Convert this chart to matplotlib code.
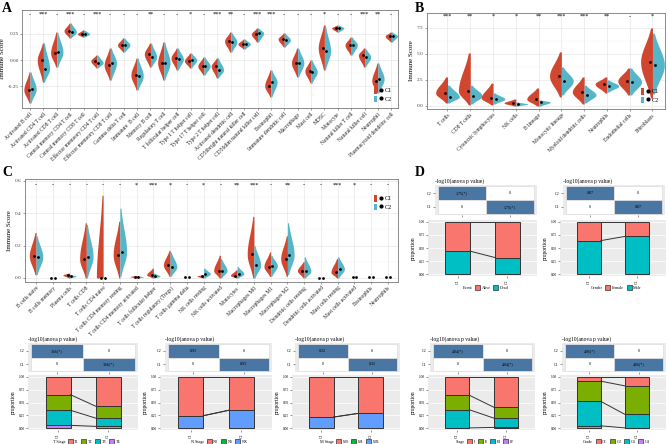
import numpy as np
import matplotlib.pyplot as plt
from matplotlib.patches import Patch, Rectangle
from matplotlib.lines import Line2D
from matplotlib.legend_handler import HandlerTuple

plt.rcParams['font.family'] = ['Liberation Serif', 'DejaVu Serif']

RED = "#D0462F"
TEAL = "#57B5C9"

# ---------------------------
# Panel A: ssGSEA immune cells
# ---------------------------
a_cells = ["Activated B cell", "Activated CD4 T cell", "Activated CD8 T cell",
           "Central memory CD4 T cell", "Central memory CD8 T cell",
           "Effector memeory CD4 T cell", "Effector memeory CD8 T cell",
           "Gamma delta T cell", "Immature  B cell", "Memory B cell",
           "Regulatory T cell", "T follicular helper cell", "Type 1 T helper cell",
           "Type 17 T helper cell", "Type 2 T helper cell", "Activated dendritic cell",
           "CD56bright natural killer cell", "CD56dim natural killer cell",
           "Eosinophil", "Immature dendritic cell", "Macrophage", "Mast cell",
           "MDSC", "Monocyte", "Natural killer T cell", "Natural killer cell",
           "Neutrophil", "Plasmacytoid dendritic cell"]
a_c1 = [-0.283, 0.000, 0.066, 0.274, 0.245, -0.009, -0.047, 0.142, -0.142, 0.057,
        -0.028, 0.019, -0.009, -0.057, -0.057, 0.179, 0.151, 0.245, -0.245, 0.198,
        -0.028, -0.104, 0.113, 0.302, 0.142, 0.047, -0.198, 0.226]
a_c2 = [-0.274, -0.085, 0.075, 0.264, 0.245, -0.028, -0.028, 0.142, -0.151, 0.028,
        -0.028, 0.009, 0.000, -0.057, -0.094, 0.170, 0.151, 0.255, -0.208, 0.189,
        -0.028, -0.113, 0.085, 0.302, 0.142, 0.028, -0.179, 0.226]
a_lo = [-0.406, -0.208, -0.066, 0.208, 0.217, -0.075, -0.189, 0.075, -0.283, -0.066,
        -0.189, -0.094, -0.075, -0.142, -0.170, 0.075, 0.104, 0.170, -0.349, 0.123,
        -0.160, -0.217, -0.094, 0.264, 0.047, -0.066, -0.311, 0.170]
a_hi = [-0.113, 0.160, 0.264, 0.349, 0.283, 0.047, 0.113, 0.208, 0.019, 0.160,
        0.170, 0.113, 0.066, 0.028, 0.019, 0.264, 0.198, 0.302, -0.094, 0.255,
        0.113, 0.000, 0.330, 0.330, 0.217, 0.113, -0.028, 0.264]
a_sig = ["-", "***", "-", "***", "-", "***", "-", "-", "-", "**", "-", "-", "*", "-",
         "***", "**", "-", "***", "***", "-", "-", "-", "*", "-", "-", "***", "**", "-"]

# ---------------------------
# Panel B: MCP-counter
# ---------------------------
b_cells = ["T cells", "CD8 T cells", "Cytotoxic lymphocytes", "NK cells", "B lineage",
           "Monocytic lineage", "Myeloid dendritic cells", "Neutrophils",
           "Endothelial cells", "Fibroblasts"]
b_c1 = [1.25, 1.44, 0.77, 0.29, 0.67, 2.88, 1.35, 2.12, 2.40, 4.23]
b_c2 = [0.87, 0.96, 0.67, 0.19, 0.38, 2.40, 1.06, 1.92, 2.31, 3.94]
b_c1_lo = [0.29, 0.10, 0.10, 0.00, 0.00, 0.87, 0.19, 1.25, 1.06, 0.77]
b_c1_hi = [2.79, 5.10, 2.20, 0.67, 1.73, 5.20, 2.79, 2.79, 3.65, 7.50]
b_c2_lo = [0.29, 0.19, 0.19, 0.00, 0.00, 1.06, 0.29, 1.35, 1.06, 1.15]
b_c2_hi = [2.00, 2.00, 1.25, 0.38, 0.58, 3.75, 2.00, 2.50, 3.65, 7.00]
b_sig = ["***", "**", "*", "*", "**", "***", "***", "**", "-", "*"]

# ---------------------------
# Panel C: CIBERSORT
# ---------------------------
c_cells = ["B cells naive", "B cells memory", "Plasma cells", "T cells CD8",
           "T cells CD4 naive", "T cells CD4 memory resting",
           "T cells CD4 memory activated", "T cells follicular helper",
           "T cells regulatory (Tregs)", "T cells gamma delta", "NK cells resting",
           "NK cells activated", "Monocytes", "Macrophages M0", "Macrophages M1",
           "Macrophages M2", "Dendritic cells resting", "Dendritic cells activated",
           "Mast cells resting", "Mast cells activated", "Eosinophils", "Neutrophils"]
c_c1 = [0.136, 0.0, 0.019, 0.118, 0.0, 0.142, 0.008, 0.019, 0.080, 0.004, 0.012,
        0.045, 0.015, 0.146, 0.070, 0.118, 0.045, 0.0, 0.035, 0.005, 0.004, 0.005]
c_c2 = [0.130, 0.0, 0.012, 0.130, 0.0, 0.160, 0.005, 0.010, 0.068, 0.003, 0.025,
        0.045, 0.025, 0.080, 0.075, 0.140, 0.040, 0.0, 0.055, 0.003, 0.004, 0.004]
c_c1_lo = [0.02, 0, 0, 0, 0, 0, 0, 0, 0.01, 0, 0, 0, 0, 0, 0.01, 0.01, 0, 0, 0, 0, 0, 0]
c_c1_hi = [0.28, 0, 0.03, 0.34, 0.51, 0.35, 0.015, 0.06, 0.17, 0, 0.02, 0.14, 0.05,
           0.38, 0.16, 0.26, 0.10, 0, 0.12, 0, 0, 0]
c_c2_lo = [0.02, 0, 0, 0, 0, 0.01, 0, 0, 0.01, 0, 0, 0, 0, 0, 0.01, 0.02, 0, 0, 0, 0, 0, 0]
c_c2_hi = [0.26, 0, 0.02, 0.33, 0, 0.43, 0.015, 0.03, 0.16, 0, 0.06, 0.12, 0.07,
           0.20, 0.14, 0.34, 0.13, 0, 0.13, 0, 0, 0]
c_sig = ["-", "-", "-", "-", "-", "-", "*", "***", "*", "-", "*", "-", "**", "***",
         "-", "**", "-", "-", "***", "*", "-", "-"]

# ---------------------------
# Panel D: clinical features
# ---------------------------
event_levels = ["Alive", "Dead"]
event_c1 = [0.56, 0.44]
event_c2 = [0.68, 0.32]
gender_levels = ["Female", "Male"]
gender_c1 = [0.36, 0.64]
gender_c2 = [0.28, 0.72]
tstage_levels = ["T1", "T2", "T3", "T4"]
tstage_c1 = [0.35, 0.30, 0.29, 0.06]
tstage_c2 = [0.57, 0.23, 0.16, 0.04]
nstage_levels = ["N0", "N1", "NX"]
nstage_c1 = [0.755, 0.0, 0.245]
nstage_c2 = [0.65, 0.0, 0.35]
mstage_levels = ["M0", "M1", "MX"]
mstage_c1 = [0.78, 0.0, 0.22]
mstage_c2 = [0.71, 0.0, 0.29]
stage_levels = ["I", "II", "III", "IV"]
stage_c1 = [0.36, 0.28, 0.35, 0.01]
stage_c2 = [0.59, 0.21, 0.18, 0.02]
grade_levels = ["G1", "G2", "G3", "G4"]
grade_c1 = [0.09, 0.39, 0.47, 0.05]
grade_c2 = [0.18, 0.55, 0.26, 0.01]
pval_labels = ["1.75(*)", "0.87", "3.66(*)", "0.93", "0.32", "4.04(*)", "4.06(*)"]

HUE = {2: ["#F8766D", "#00BFC4"],
       3: ["#F8766D", "#00BA38", "#619CFF"],
       4: ["#F8766D", "#7CAE00", "#00BFC4", "#C77CFF"]}

W, H = 668, 444
fig = plt.figure(figsize=(6.68, 4.44), dpi=100)


def add_px(l, t, r, b):
    return fig.add_axes([l / W, 1 - b / H, (r - l) / W, (b - t) / H])


def half_violin(ax, x, m, lo, hi, side, color, width):
    if hi - lo < 1e-6:
        return
    y = np.linspace(lo, hi, 100)
    s_lo = max(m - lo, (hi - lo) * 0.05) / 1.9
    s_hi = max(hi - m, (hi - lo) * 0.05) / 1.9
    s = np.where(y < m, s_lo, s_hi)
    w = np.exp(-0.5 * ((y - m) / s) ** 2) * width
    ax.fill_betweenx(y, x, x + side * w, color=color, lw=0)


def violin_panel(ax, names, c1, c2, lo1, hi1, lo2, hi2, sig, xlim, ylim, yticks,
                 ylabels, sig_y, fs=4.0, width=0.45):
    ax.set_xlim(*xlim)
    ax.set_ylim(*ylim)
    ax.set_xticks(range(len(names)))
    ax.set_xticklabels(names, rotation=45, ha="right", rotation_mode="anchor",
                       fontsize=fs, color="#222222")
    ax.set_yticks(yticks)
    ax.set_yticklabels(ylabels, fontsize=3.8, color="#444444")
    ax.set_yticks([(a + b) / 2 for a, b in zip(yticks[:-1], yticks[1:])], minor=True)
    ax.grid(True, which="major", color="#E8E8E8", lw=0.5)
    ax.grid(True, which="minor", axis="y", color="#F2F2F2", lw=0.3)
    ax.set_axisbelow(True)
    ax.tick_params(length=1.5, width=0.4, pad=1, color="#555555")
    ax.tick_params(which="minor", length=0)
    for s in ax.spines.values():
        s.set_color("#777777")
        s.set_linewidth(0.6)
    ax.set_ylabel("Immune Score", fontsize=5, labelpad=2)
    for i in range(len(names)):
        half_violin(ax, i, c1[i], lo1[i], hi1[i], -1, RED, width)
        half_violin(ax, i, c2[i], lo2[i], hi2[i], 1, TEAL, width)
        ax.plot([i - 0.11], [c1[i]], "o", color="black", ms=2.0, mew=0)
        ax.plot([i + 0.11], [c2[i]], "o", color="black", ms=2.0, mew=0)
        ax.text(i, sig_y, sig[i], transform=ax.get_xaxis_transform(), ha="center",
                va="center", fontsize=4.5)


def violin_legend(ax, **kw):
    h1 = (Patch(facecolor=RED), Line2D([], [], marker="o", color="k", ls="", ms=2))
    h2 = (Patch(facecolor=TEAL), Line2D([], [], marker="o", color="k", ls="", ms=2))
    ax.legend([h1, h2], ["C1", "C2"], handler_map={tuple: HandlerTuple(ndivide=None)},
              fontsize=4.5, frameon=False, handlelength=1.3, handleheight=1.3,
              labelspacing=0.3, handletextpad=0.5, **kw)


# A
axA = add_px(22, 10, 398, 108)
violin_panel(axA, a_cells, a_c1, a_c2, a_lo, a_hi, a_lo, a_hi, a_sig,
             (-0.6, 27.5), (-0.453, 0.472), [-0.25, 0.0, 0.25],
             ["-0.25", "0.00", "0.25"], 0.955, width=0.46)
violin_legend(axA, loc="lower right", bbox_to_anchor=(1.0, 0.0))

# B
axB = add_px(427, 13, 665, 109)
violin_panel(axB, b_cells, b_c1, b_c2, b_c1_lo, b_c1_hi, b_c2_lo, b_c2_hi, b_sig,
             (-0.9, 9.55), (-0.29, 8.94), [0.0, 2.5, 5.0, 7.5],
             ["0.0", "2.5", "5.0", "7.5"], 0.965, width=0.52)
violin_legend(axB, loc="lower right", bbox_to_anchor=(1.0, 0.0))

# C
axC = add_px(25, 179, 398, 282)
violin_panel(axC, c_cells, c_c1, c_c2, c_c1_lo, c_c1_hi, c_c2_lo, c_c2_hi, c_sig,
             (-0.66, 21.6), (-0.025, 0.61), [0.0, 0.2, 0.4, 0.6],
             ["0.0", "0.2", "0.4", "0.6"], 0.94, width=0.4)
violin_legend(axC, loc="upper right", bbox_to_anchor=(1.0, 0.9))


def heat_panel(ax, label):
    ax.set_facecolor("#EBEBEB")
    cells = [(0, 1, True), (1, 1, False), (0, 0, False), (1, 0, True)]
    for cx, cy, hit in cells:
        ax.add_patch(Rectangle((cx - 0.5, cy - 0.5), 1, 1,
                               facecolor="#4A76A3" if hit else "white",
                               edgecolor="#E0E0E0", lw=0.6))
        ax.text(cx, cy, label if hit else "0", ha="center", va="center", fontsize=3)
    ax.set_xlim(-0.56, 1.56)
    ax.set_ylim(-0.6, 1.6)
    ax.set_xticks([0, 1])
    ax.set_xticklabels(["", ""])
    ax.set_yticks([0, 1])
    ax.set_yticklabels(["C1", "C2"], fontsize=3)
    ax.tick_params(length=1.2, width=0.4, pad=1, color="#444444")
    for s in ax.spines.values():
        s.set_visible(False)
    ax.set_title("-log10(anova p value)", loc="left", fontsize=4, pad=2)


def mosaic_panel(ax, levels, p1, p2, title):
    cols = HUE[len(levels)]
    ax.set_facecolor("#EBEBEB")
    ax.set_xlim(0.4, 2.6)
    ax.set_ylim(-0.03, 1.03)
    ax.set_yticks([0, 0.25, 0.5, 0.75, 1.0])
    ax.set_yticklabels(["0.00", "0.25", "0.50", "0.75", "1.00"], fontsize=2.6)
    ax.set_xticks([1, 2])
    ax.set_xticklabels(["C1", "C2"], rotation=90, fontsize=2.8)
    ax.grid(True, axis="y", color="white", lw=0.5)
    ax.set_axisbelow(True)
    ax.tick_params(length=1.2, width=0.4, pad=1, color="#444444")
    for s in ax.spines.values():
        s.set_visible(False)
    ax.set_ylabel("proportion", fontsize=4, labelpad=2)
    for xpos, props in ((1, p1), (2, p2)):
        bottom = 0.0
        for p, c in zip(props[::-1], cols[::-1]):
            if p > 0:
                ax.bar(xpos, p, 0.5, bottom=bottom, color=c, edgecolor="#333333", lw=0.7)
            bottom += p
    cum1 = np.cumsum(p1[::-1])
    cum2 = np.cumsum(p2[::-1])
    for y1, y2 in zip(cum1, cum2):
        ax.plot([1.25, 1.75], [y1, y2], color="#333333", lw=0.7)
    handles = [Patch(facecolor="none", edgecolor="none")]
    handles += [Patch(facecolor=c, edgecolor="#333333", lw=0.5) for c in cols]
    ax.legend(handles, [title] + levels, loc="upper center", bbox_to_anchor=(0.5, -0.1),
              ncol=len(levels) + 1, fontsize=3, frameon=False, handlelength=1.2,
              handleheight=1.2, columnspacing=0.6, handletextpad=0.4)


# D, top row
heat_panel(add_px(435, 185, 537, 215), pval_labels[0])
mosaic_panel(add_px(428, 220, 537, 276), event_levels, event_c1, event_c2, "Event")
heat_panel(add_px(563, 185, 665, 215), pval_labels[1])
mosaic_panel(add_px(560, 220, 666, 276), gender_levels, gender_c1, gender_c2, "Gender")

# D, bottom row
bottom_panels = [(28, 138, 28, 138, tstage_levels, tstage_c1, tstage_c2, "T Stage"),
                 (165, 272, 160, 272, nstage_levels, nstage_c1, nstage_c2, "N Stage"),
                 (295, 400, 292, 400, mstage_levels, mstage_c1, mstage_c2, "M Stage"),
                 (430, 535, 428, 535, stage_levels, stage_c1, stage_c2, "Stage"),
                 (562, 666, 560, 666, grade_levels, grade_c1, grade_c2, "Grade")]
for k, (hl, hr, bl, br, lev, p1, p2, ttl) in enumerate(bottom_panels):
    heat_panel(add_px(hl, 343, hr, 372), pval_labels[k + 2])
    mosaic_panel(add_px(bl, 375, br, 430), lev, p1, p2, ttl)

for lab, x, y in (("A", 2, 8), ("B", 415, 8), ("C", 2, 172), ("D", 415, 172)):
    fig.text(x / W, 1 - y / H, lab, fontsize=10, fontweight="bold", va="center")

plt.savefig("out.png", dpi=100)
